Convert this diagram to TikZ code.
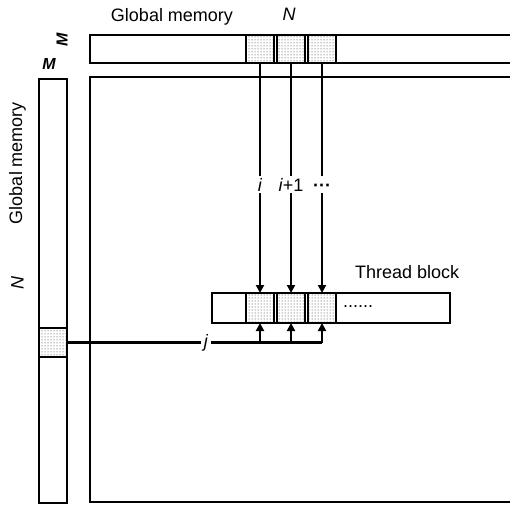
\documentclass[tikz,border=0pt]{standalone}
\usepackage{fontspec}
\setmainfont{Liberation Sans}
\usetikzlibrary{arrows.meta,patterns}
\begin{document}
\begin{tikzpicture}[x=1pt,y=-1pt,line width=2.4pt,
  box/.style={draw,rectangle,inner sep=0pt,outer sep=0pt},
  cellbox/.style={box,pattern=dots,pattern color=black!85,minimum width=28pt,minimum height=28pt},
  arr/.style={-{Triangle[length=8pt,width=8pt]}},
  lbl/.style={font=\fontsize{18}{21}\selectfont,inner sep=1pt},
  onl/.style={lbl,fill=white,inner sep=2pt}]
\clip (0,0) rectangle (510,505);
% global memory bars
\node[box,anchor=north west,minimum width=440pt,minimum height=28pt] (topbar) at (90,35) {};
\node[box,anchor=north west,minimum width=440pt,minimum height=425pt] (mat) at (90,77) {};
\node[box,anchor=north west,minimum width=28pt,minimum height=424pt] (col) at (39,79) {};
\node[cellbox,anchor=north west,minimum height=29pt] (lc) at (39,328) {};
% top cells
\node[cellbox,anchor=north] (t1) at (260,35) {};
\node[cellbox,anchor=north] (t2) at (291,35) {};
\node[cellbox,anchor=north] (t3) at (322,35) {};
% thread block
\node[box,anchor=north west,minimum width=238pt,minimum height=30pt] (tb) at (212,293) {};
\node[cellbox,anchor=north,minimum height=30pt] (b1) at (260,293) {};
\node[cellbox,anchor=north,minimum height=30pt] (b2) at (291,293) {};
\node[cellbox,anchor=north,minimum height=30pt] (b3) at (322,293) {};
% arrows down
\draw[arr] (t1.south) -- node[onl,pos=0.53] {\textit{i}\vphantom{i+1}} (b1.north);
\draw[arr] (t2.south) -- node[onl,pos=0.53] {\textit{i}+1} (b2.north);
\draw[arr] (t3.south) -- node[onl,pos=0.53] {\textbf{···}\vphantom{i+1}} (b3.north);
% row line and arrows up
\coordinate (jc) at (b3.south |- lc.east);
\draw (lc.east) -- node[onl,pos=0.545,inner sep=3pt] {\textit{j}} (jc);
\draw[arr] (b1.south |- lc.east) -- (b1.south);
\draw[arr] (b2.south |- lc.east) -- (b2.south);
\draw[arr] (jc) -- (b3.south);
% labels
\node[lbl] (gm1) at (172,17) {Global memory};
\node[lbl] (n1) at (289,14) {\textit{N}};
\node[lbl,rotate=90] (gm2) at (17.5,163) {Global memory};
\node[lbl,rotate=90] (n2) at (17.5,283) {\textit{N}};
\node[lbl,font=\fontsize{16}{19}\selectfont\bfseries\itshape] (m1) at (49,64) {M};
\node[lbl,rotate=90,font=\fontsize{16}{19}\selectfont\bfseries\itshape] (m2) at (62,40) {M};
\node[lbl,anchor=west] (tbl) at (353,272) {Thread block};
\node[lbl,anchor=west] (dots) at (341,307) {......};
\end{tikzpicture}
\end{document}
